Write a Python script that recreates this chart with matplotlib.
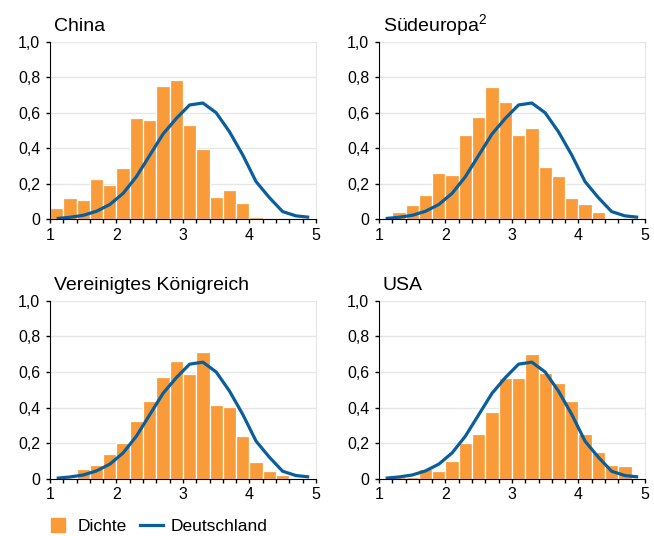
import numpy as np
import matplotlib
matplotlib.use("Agg")
import matplotlib.pyplot as plt
from matplotlib.lines import Line2D

plt.rcParams['font.family'] = ['Liberation Sans', 'DejaVu Sans']
plt.rcParams['mathtext.fontset'] = 'custom'
plt.rcParams['mathtext.rm'] = 'Liberation Sans'
plt.rcParams['mathtext.it'] = 'Liberation Sans'

# bin centres (width 0.2 from 1 to 5)
bins = [1.1, 1.3, 1.5, 1.7, 1.9, 2.1, 2.3, 2.5, 2.7, 2.9,
        3.1, 3.3, 3.5, 3.7, 3.9, 4.1, 4.3, 4.5, 4.7, 4.9]

# Deutschland reference density
deutschland = [0.004, 0.011, 0.022, 0.045, 0.083, 0.146, 0.240, 0.360, 0.480, 0.568,
               0.644, 0.655, 0.600, 0.493, 0.362, 0.212, 0.122, 0.043, 0.019, 0.011]

china = [0.064, 0.120, 0.109, 0.227, 0.193, 0.289, 0.570, 0.559, 0.750, 0.784,
         0.531, 0.396, 0.126, 0.165, 0.092, 0.013, 0.002, 0.002, 0.007, 0.005]
suedeuropa = [0.002, 0.041, 0.081, 0.137, 0.261, 0.251, 0.475, 0.576, 0.745, 0.660,
              0.475, 0.514, 0.295, 0.244, 0.120, 0.086, 0.041, 0.002, 0.002, 0.001]
uk = [0.003, 0.005, 0.056, 0.078, 0.140, 0.202, 0.325, 0.437, 0.572, 0.662,
      0.589, 0.712, 0.415, 0.404, 0.241, 0.095, 0.045, 0.022, 0.005, 0.003]
usa = [0.002, 0.008, 0.010, 0.056, 0.045, 0.101, 0.202, 0.252, 0.376, 0.566,
       0.566, 0.701, 0.594, 0.538, 0.437, 0.252, 0.151, 0.079, 0.073, 0.005]

titles = ["China", "Südeuropa$^{\\mathrm{2}}$", "Vereinigtes Königreich", "USA"]
series = [china, suedeuropa, uk, usa]

ORANGE = '#F99B38'
BLUE = '#0A5E9C'

fig = plt.figure(figsize=(6.54, 5.36), dpi=100)
positions = [
    [0.0765, 0.591, 0.4065, 0.331],
    [0.5795, 0.591, 0.4065, 0.331],
    [0.0765, 0.1065, 0.4065, 0.3325],
    [0.5795, 0.1065, 0.4065, 0.3325],
]

for pos, title, vals in zip(positions, titles, series):
    ax = fig.add_axes(pos)
    ax.bar(bins, vals, width=0.2, color=ORANGE, edgecolor='white', linewidth=0.9, zorder=2)
    ax.plot(bins, deutschland, color=BLUE, linewidth=2.3, zorder=3, solid_capstyle='butt')
    ax.set_xlim(1, 5)
    ax.set_ylim(0, 1.0)
    ax.set_xticks([1, 2, 3, 4, 5])
    ax.set_xticks(np.arange(1, 5.01, 0.2), minor=True)
    ax.set_yticks([0, 0.2, 0.4, 0.6, 0.8, 1.0])
    ax.set_yticklabels(["0", "0,2", "0,4", "0,6", "0,8", "1,0"])
    ax.grid(axis='y', color='#E6E6E6', linewidth=1.0, zorder=0)
    ax.set_axisbelow(True)
    ax.spines['top'].set_visible(False)
    ax.spines['right'].set_color('#E6E6E6')
    ax.spines['left'].set_color('black')
    ax.spines['bottom'].set_color('black')
    ax.spines['bottom'].set_zorder(4)
    ax.tick_params(axis='both', labelsize=11.5, colors='black', length=3, width=1, direction='out')
    ax.tick_params(axis='x', which='minor', length=3, width=1)
    ax.tick_params(axis='x', pad=3)
    ax.tick_params(axis='y', pad=4)
    ax.text(0.015, 1.062, title, transform=ax.transAxes, fontsize=14,
            ha='left', va='baseline')

handles = [Line2D([], [], marker='s', linestyle='none', markersize=10.5,
                  markerfacecolor=ORANGE, markeredgecolor=ORANGE),
           Line2D([], [], color=BLUE, linewidth=2.3)]
fig.legend(handles, ["Dichte", "Deutschland"], loc='center left',
           bbox_to_anchor=(0.061, 0.017), ncol=2, frameon=False, fontsize=12.5,
           handlelength=1.3, handletextpad=0.45, columnspacing=0.8, borderaxespad=0)

fig.savefig("out.png", dpi=100)
